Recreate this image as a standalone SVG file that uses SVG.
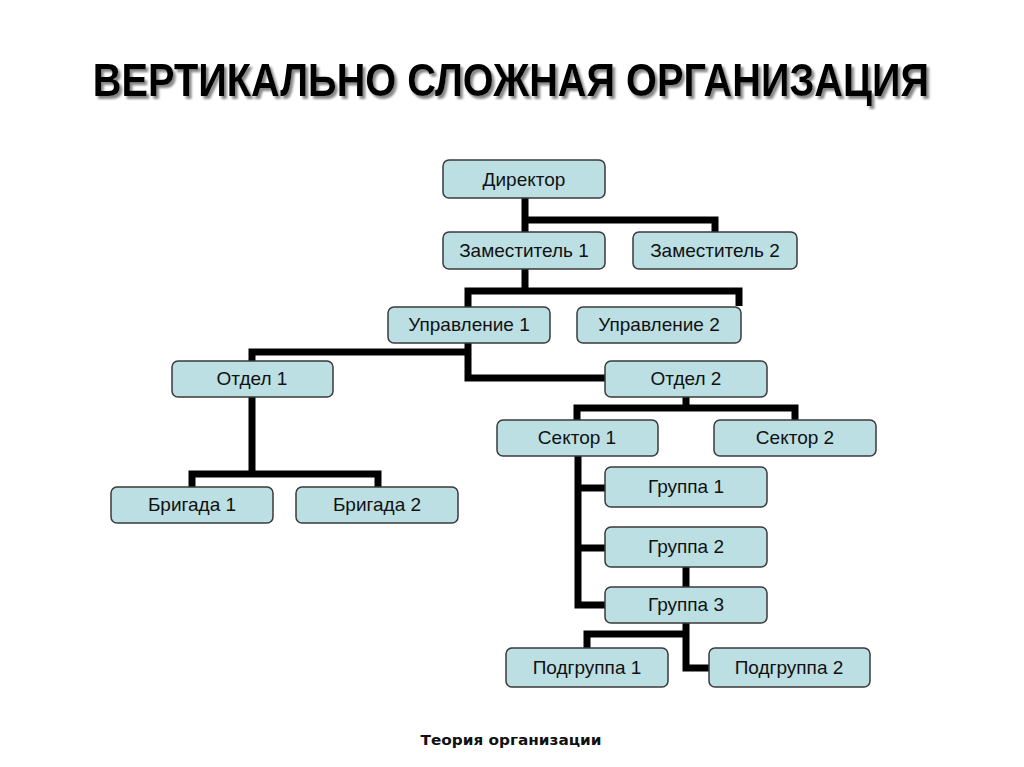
<svg xmlns="http://www.w3.org/2000/svg" width="1024" height="767" viewBox="0 0 1024 767">
<style>
.box{fill:#bcdfe3;stroke:#3a3a3a;stroke-width:1.5}
.lbl{font-family:"Liberation Sans",Arial,sans-serif;font-size:19px;fill:#111;text-anchor:middle}
.con{fill:none;stroke:#000;stroke-width:7;stroke-linejoin:miter;stroke-linecap:butt}
.title{font-family:"Liberation Sans",Arial,sans-serif;font-weight:bold;font-size:46px;text-anchor:middle}
</style>
<defs>
<filter id="shadow" x="-5%" y="-40%" width="110%" height="180%">
<feDropShadow dx="3" dy="3" stdDeviation="1.2" flood-color="#7a7a7a" flood-opacity="0.9"/>
</filter>
</defs>
<rect width="1024" height="767" fill="#fff"/>
<g transform="translate(511 96) scale(0.864 1)">
<text class="title" x="0" y="0" fill="#000" filter="url(#shadow)">ВЕРТИКАЛЬНО СЛОЖНАЯ ОРГАНИЗАЦИЯ</text>
</g>
<g id="connectors">
<path class="con" d="M525 198V233M525 220H715V233"/>
<path class="con" d="M525 268V291M468 307V291H739V306"/>
<path class="con" d="M468 343V378H605M468 352H252V361"/>
<path class="con" d="M252 397V474M192 487V474H378V487"/>
<path class="con" d="M686 397V408M577 420V408H795V420"/>
<path class="con" d="M578 456V605H605M578 488H605M578 548H605"/>
<path class="con" d="M686 567V587"/>
<path class="con" d="M686 623V668H709M686 634H587V648"/>
</g>
<g id="n-director"><rect class="box" x="443" y="160" width="162" height="38" rx="6"/><text class="lbl" x="524" y="186">Директор</text></g>
<g id="n-zam1"><rect class="box" x="443" y="232" width="162" height="37" rx="6"/><text class="lbl" x="524" y="257">Заместитель 1</text></g>
<g id="n-zam2"><rect class="box" x="633" y="232" width="164" height="37" rx="6"/><text class="lbl" x="715" y="257">Заместитель 2</text></g>
<g id="n-upr1"><rect class="box" x="388" y="307" width="162" height="36" rx="6"/><text class="lbl" x="469" y="331">Управление 1</text></g>
<g id="n-upr2"><rect class="box" x="577" y="307" width="164" height="36" rx="6"/><text class="lbl" x="659" y="331">Управление 2</text></g>
<g id="n-otdel1"><rect class="box" x="172" y="361" width="161" height="36" rx="6"/><text class="lbl" x="252" y="385">Отдел 1</text></g>
<g id="n-otdel2"><rect class="box" x="605" y="361" width="162" height="36" rx="6"/><text class="lbl" x="686" y="385">Отдел 2</text></g>
<g id="n-brig1"><rect class="box" x="111" y="487" width="162" height="36" rx="6"/><text class="lbl" x="192" y="511">Бригада 1</text></g>
<g id="n-brig2"><rect class="box" x="296" y="487" width="162" height="36" rx="6"/><text class="lbl" x="377" y="511">Бригада 2</text></g>
<g id="n-sektor1"><rect class="box" x="497" y="420" width="161" height="36" rx="6"/><text class="lbl" x="577" y="444">Сектор 1</text></g>
<g id="n-sektor2"><rect class="box" x="714" y="420" width="162" height="36" rx="6"/><text class="lbl" x="795" y="444">Сектор 2</text></g>
<g id="n-gr1"><rect class="box" x="605" y="467" width="162" height="40" rx="6"/><text class="lbl" x="686" y="493">Группа 1</text></g>
<g id="n-gr2"><rect class="box" x="605" y="527" width="162" height="40" rx="6"/><text class="lbl" x="686" y="553">Группа 2</text></g>
<g id="n-gr3"><rect class="box" x="605" y="587" width="162" height="36" rx="6"/><text class="lbl" x="686" y="611">Группа 3</text></g>
<g id="n-pgr1"><rect class="box" x="506" y="648" width="162" height="39" rx="6"/><text class="lbl" x="587" y="674">Подгруппа 1</text></g>
<g id="n-pgr2"><rect class="box" x="709" y="648" width="161" height="39" rx="6"/><text class="lbl" x="789" y="674">Подгруппа 2</text></g>
<text x="511" y="745" font-family="'DejaVu Sans',Verdana,sans-serif" font-weight="bold" font-size="14" text-anchor="middle" fill="#111" textLength="181" lengthAdjust="spacingAndGlyphs">Теория организации</text>
</svg>
